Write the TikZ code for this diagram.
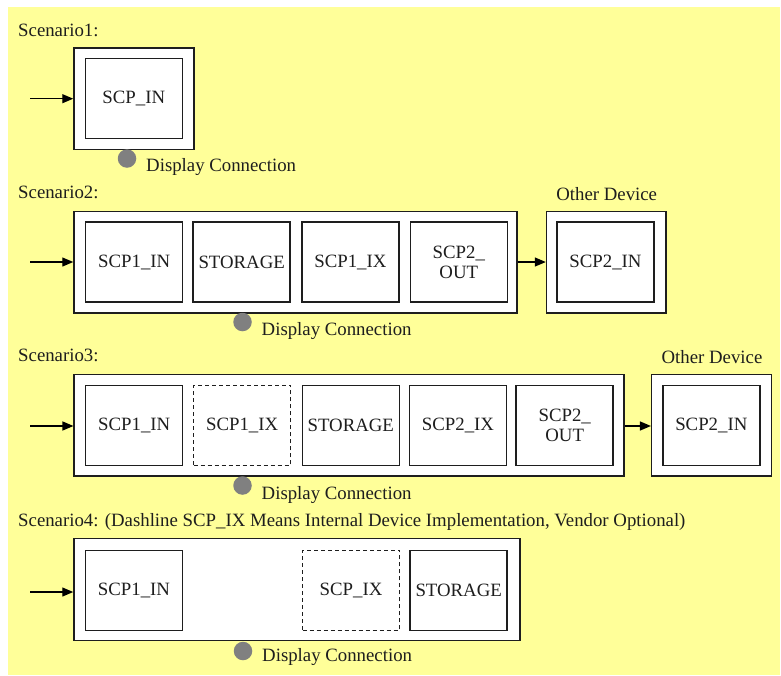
\documentclass[tikz,border=0pt]{standalone}
\usepackage{fontspec}
\setmainfont{Liberation Serif}
\usetikzlibrary{arrows.meta}
\definecolor{bgyellow}{HTML}{FFFF99}
\definecolor{dotgray}{HTML}{808080}
\definecolor{ink}{HTML}{1E1E1E}
\begin{document}
\begin{tikzpicture}[x=1pt,y=-1pt,
  every node/.style={font=\fontsize{18.8}{20}\selectfont, text=ink},
  outerbox/.style={draw=ink, fill=white, line width=1.5pt, inner sep=0pt, minimum height=101.5pt},
  innerbox/.style={draw=ink, fill=white, line width=1.5pt, inner sep=0pt, minimum width=97pt, minimum height=80pt, align=center},
  dashbox/.style={innerbox, line width=1.3pt, dash pattern=on 4pt off 3pt},
  dot/.style={circle, fill=dotgray, inner sep=0pt, minimum size=18.5pt},
  lbl/.style={anchor=base west, inner sep=0pt},
  arr/.style={draw=black, line width=1.3pt, -{Triangle[length=11pt,width=9pt]}}
]
\useasboundingbox (0,0) rectangle (781,675);
\fill[white] (0,0) rectangle (781,675);
\fill[bgyellow] (8,7) rectangle (780,675);

% Scenario 1
\node[lbl] (s1) at (18,36) {Scenario1:};
\node[outerbox, minimum width=120pt] (o1) at (134,98.7) {};
\node[innerbox] (s1in) at (133.8,98.3) {SCP\_IN};
\coordinate (a1) at (30,98.7);
\draw[arr] (a1) -- (a1 -| o1.west);
\node[dot] (d1) at (127,158.5) {};
\node[lbl] (dc1) at (146,171.5) {Display Connection};

% Scenario 2
\node[lbl] (s2) at (18,198) {Scenario2:};
\node[outerbox, minimum width=443pt] (o2) at (295.5,262.2) {};
\node[innerbox] (s2a) at (134.2,262) {SCP1\_IN};
\node[innerbox] (s2b) at (241.7,262) {STORAGE};
\node[innerbox] (s2c) at (350.4,262) {SCP1\_IX};
\node[innerbox] (s2d) at (458.8,262) {SCP2\_\\OUT};
\node[outerbox, minimum width=119.5pt] (od2) at (606.3,262.2) {};
\node[innerbox] (s2e) at (605.5,262) {SCP2\_IN};
\node[anchor=base, inner sep=0pt] (other2) at (606.7,200) {Other Device};
\coordinate (a2) at (30,262);
\draw[arr] (a2) -- (a2 -| o2.west);
\draw[arr] (o2.east |- a2) -- (od2.west |- a2);
\node[dot] (d2) at (242.5,322) {};
\node[lbl] (dc2) at (261.5,335) {Display Connection};

% Scenario 3
\node[lbl] (s3) at (18,361.5) {Scenario3:};
\node[outerbox, minimum width=550pt] (o3) at (349.2,425.2) {};
\node[innerbox] (s3a) at (134.2,425.3) {SCP1\_IN};
\node[dashbox] (s3b) at (242.1,425.3) {SCP1\_IX};
\node[innerbox] (s3c) at (350.8,425.3) {STORAGE};
\node[innerbox] (s3d) at (458,425.3) {SCP2\_IX};
\node[innerbox] (s3e) at (564.7,425.3) {SCP2\_\\OUT};
\node[outerbox, minimum width=120pt] (od3) at (711.7,425.2) {};
\node[innerbox] (s3f) at (711.3,425.3) {SCP2\_IN};
\node[anchor=base, inner sep=0pt] (other3) at (712,363.3) {Other Device};
\coordinate (a3) at (30,426);
\draw[arr] (a3) -- (a3 -| o3.west);
\draw[arr] (o3.east |- a3) -- (od3.west |- a3);
\node[dot] (d3) at (242.5,485.5) {};
\node[lbl] (dc3) at (261.5,499.3) {Display Connection};

% Scenario 4
\node[lbl] (s4) at (18,526.5) {Scenario4: (Dashline SCP\_IX Means Internal Device Implementation, Vendor Optional)};
\node[outerbox, minimum width=446pt, minimum height=102pt] (o4) at (297,589.7) {};
\node[innerbox] (s4a) at (134,590.3) {SCP1\_IN};
\node[dashbox] (s4b) at (351,590.3) {SCP\_IX};
\node[innerbox] (s4c) at (458.7,590.3) {STORAGE};
\coordinate (a4) at (30,592);
\draw[arr] (a4) -- (a4 -| o4.west);
\node[dot] (d4) at (243,651) {};
\node[lbl] (dc4) at (262,661.7) {Display Connection};
\end{tikzpicture}
\end{document}
